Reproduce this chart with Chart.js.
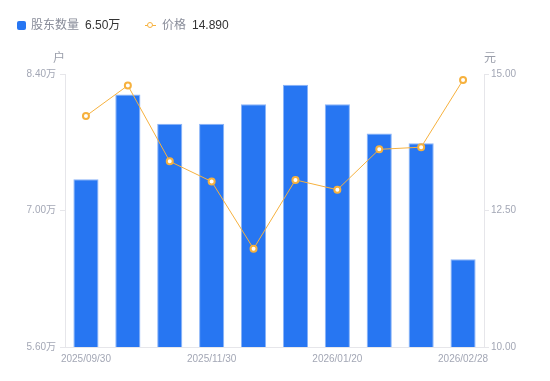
<!DOCTYPE html>
<html>
<head>
<meta charset="utf-8">
<script src="https://cdn.jsdelivr.net/npm/chart.js@4/dist/chart.umd.min.js"></script>
<style>
  html, body { margin: 0; padding: 0; background: #fff; }
  #wrap { position: relative; width: 550px; height: 381px; font-family: 'Liberation Sans', 'Noto Sans CJK SC', sans-serif; }
  canvas { position: absolute; left: 0; top: 0; }
  .lg { position: absolute; top: 18px; font-size: 12px; line-height: 14px; white-space: nowrap; }
  .lg .name { color: #888c99; }
  .lg .val { color: #333; margin-left: 6px; }
  .sq { display: inline-block; width: 9px; height: 9px; background: #2776f2; border-radius: 2px; vertical-align: -1px; margin-right: 5px; }
  .ln { display: inline-block; position: relative; width: 11px; height: 9px; margin-right: 6px; vertical-align: -1px; }
  .ln::before { content: ''; position: absolute; left: 0; right: 0; top: 4px; height: 1px; background: #f6b13e; }
  .ln::after { content: ''; position: absolute; left: 2px; top: 1px; width: 4px; height: 4px; border: 1.5px solid #f6b13e; border-radius: 50%; background: #fff; }
  .unit { position: absolute; top: 48px; font-size: 12px; color: #9a9eaa; }
</style>
</head>
<body>
<div id="wrap">
  <canvas id="c" width="550" height="381"></canvas>
  <div class="lg" style="left:17px"><span class="sq"></span><span class="name">股东数量</span><span class="val">6.50万</span></div>
  <div class="lg" style="left:145px"><span class="ln"></span><span class="name">价格</span><span class="val">14.890</span></div>
  <div class="unit" style="left:53px">户</div>
  <div class="unit" style="left:484px">元</div>
</div>
<script>
const categories = ['2025/09/30','2025/10/20','2025/10/31','2025/11/30','2025/12/10','2025/12/31','2026/01/20','2026/01/31','2026/02/10','2026/02/28'];
const holders = [7.32, 8.19, 7.89, 7.89, 8.09, 8.29, 8.09, 7.79, 7.69, 6.50];
const price = [14.23, 14.79, 13.40, 13.03, 11.80, 13.06, 12.88, 13.62, 13.66, 14.89];
const shownXLabels = [0, 3, 6, 9];
const leftTicks = [5.6, 7.0, 8.4];
const rightTicks = [10, 12.5, 15];

const FONT = "'Liberation Sans', 'Noto Sans CJK SC', sans-serif";
const tickColor = '#a3a7b5';
const lineColor = '#e6e6ea';

new Chart(document.getElementById('c'), {
  data: {
    labels: categories,
    datasets: [
      {
        type: 'line', label: '价格', data: price, yAxisID: 'y1', order: 0,
        borderColor: '#f6b13e', borderWidth: 1, tension: 0,
        pointRadius: 3, pointBorderWidth: 2, pointBackgroundColor: '#fff', pointBorderColor: '#f6b13e',
        pointHoverRadius: 3
      },
      {
        type: 'bar', label: '股东数量', data: holders, yAxisID: 'y', order: 1,
        backgroundColor: '#2776f2', borderColor: '#8ab4f8', borderWidth: {top: 1, left: 1, right: 1, bottom: 0},
        barPercentage: 0.6, categoryPercentage: 1.0
      }
    ]
  },
  options: {
    responsive: false, animation: false, devicePixelRatio: 1,
    layout: { padding: { top: 74, left: 0, right: 0, bottom: 0 } },
    plugins: { legend: { display: false }, tooltip: { enabled: false } },
    scales: {
      x: {
        offset: true,
        grid: { display: false, drawTicks: false },
        border: { display: true, color: lineColor },
        ticks: {
          autoSkip: false, maxRotation: 0, minRotation: 0, padding: 6,
          color: tickColor, font: { family: FONT, size: 10 },
          callback: function(v, i) { return shownXLabels.includes(i) ? categories[i] : ''; }
        },
        afterFit: function(s) { s.height = 34; }
      },
      y: {
        position: 'left', min: 5.6, max: 8.4,
        afterBuildTicks: function(s) { s.ticks = leftTicks.map(v => ({ value: v })); },
        grid: { drawOnChartArea: false, drawTicks: true, tickLength: 5, color: lineColor },
        border: { display: true, color: lineColor },
        ticks: { padding: 4, color: tickColor, font: { family: FONT, size: 10 },
          callback: v => v.toFixed(2) + '万' },
        afterFit: function(s) { s.width = 65; }
      },
      y1: {
        position: 'right', min: 10, max: 15,
        afterBuildTicks: function(s) { s.ticks = rightTicks.map(v => ({ value: v })); },
        grid: { drawOnChartArea: false, drawTicks: true, tickLength: 5, color: lineColor },
        border: { display: true, color: lineColor },
        ticks: { padding: 2, color: tickColor, font: { family: FONT, size: 10 },
          callback: v => v.toFixed(2) },
        afterFit: function(s) { s.width = 66; }
      }
    }
  }
});
</script>
</body>
</html>
